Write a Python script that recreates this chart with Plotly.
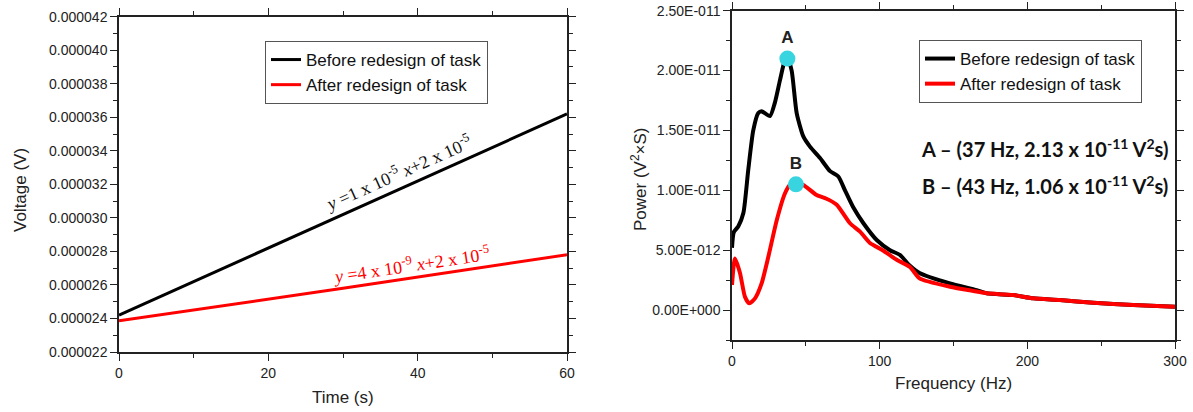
import plotly.graph_objects as go

# ---------------- Left panel data ----------------
time_s = [0, 30, 60]
volt_before = [2.42e-5, 3.02e-5, 3.62e-5]
volt_after = [2.386e-5, 2.58e-5, 2.78e-5]

# ---------------- Right panel data ----------------
freq_before = [0, 1.2, 4.3, 7.7, 11, 14.4, 17.8, 20, 25.7, 29, 32.5, 35.9, 37.5, 40.4, 43.8,
               48.3, 52.8, 59.6, 66.4, 72, 76.5, 82, 89, 98, 107, 113.7, 120.5, 127, 147.6,
               165.7, 172.4, 190.5, 204, 222, 244.6, 271.7, 300]
power_before = [0.52, 0.65, 0.70, 0.81, 1.17, 1.50, 1.645, 1.66, 1.62, 1.73, 1.92, 2.09, 2.11,
                2.00, 1.645, 1.45, 1.365, 1.27, 1.16, 1.115, 1.00, 0.86, 0.725, 0.585, 0.50,
                0.46, 0.37, 0.31, 0.223, 0.167, 0.14, 0.125, 0.098, 0.084, 0.061, 0.042, 0.028]
freq_after = [0, 2, 5.4, 8.8, 11.7, 15.6, 20, 24.6, 30.3, 35.9, 39.3, 43.3, 48.3, 57.3, 64,
              70.9, 79.9, 86.7, 93.4, 102, 111.5, 120.5, 127, 147.6, 165.7, 172.4, 190.5,
              204, 222, 244.6, 271.7, 300]
power_after = [0.21, 0.43, 0.31, 0.11, 0.056, 0.098, 0.22, 0.445, 0.75, 0.975, 1.045, 1.06,
               1.045, 0.96, 0.93, 0.88, 0.725, 0.655, 0.56, 0.50, 0.42, 0.36, 0.265, 0.195,
               0.155, 0.14, 0.125, 0.098, 0.084, 0.061, 0.042, 0.028]
scale = 1e-11
power_before = [v * scale for v in power_before]
power_after = [v * scale for v in power_after]

peak_labels = ["A", "B"]
peak_freq = [37.5, 43.3]
peak_power = [2.10e-11, 1.05e-11]

y2_tickvals = [0, 5e-12, 1e-11, 1.5e-11, 2e-11, 2.5e-11]
y2_ticktext = ["0.00E+000", "5.00E-012", "1.00E-011", "1.50E-011", "2.00E-011", "2.50E-011"]

W, H = 1193, 412
def px(x): return x / W
def py(y): return 1 - y / H

AX_FONT = dict(family="Liberation Sans, Arial", size=14, color="#222")
TITLE_FONT = dict(family="Liberation Sans, Arial", size=17, color="#222")

fig = go.Figure()

fig.add_trace(go.Scatter(x=time_s, y=volt_before, mode="lines", name="Before redesign of task",
                         line=dict(color="black", width=3), xaxis="x", yaxis="y", legend="legend"))
fig.add_trace(go.Scatter(x=time_s, y=volt_after, mode="lines", name="After redesign of task",
                         line=dict(color="#ff0000", width=3), xaxis="x", yaxis="y", legend="legend"))

fig.add_trace(go.Scatter(x=freq_before, y=power_before, mode="lines", name="Before redesign of task",
                         line=dict(color="black", width=4, shape="spline", smoothing=0.6),
                         xaxis="x2", yaxis="y2", legend="legend2"))
fig.add_trace(go.Scatter(x=freq_after, y=power_after, mode="lines", name="After redesign of task",
                         line=dict(color="#ff0000", width=4, shape="spline", smoothing=0.6),
                         xaxis="x2", yaxis="y2", legend="legend2"))
fig.add_trace(go.Scatter(x=peak_freq, y=peak_power, mode="markers+text", text=peak_labels,
                         textposition="top center",
                         textfont=dict(family="Liberation Sans, Arial", size=17, color="#222",
                                       weight="bold"),
                         marker=dict(color="#38d5e0", size=16), showlegend=False,
                         xaxis="x2", yaxis="y2"))

axis_common = dict(showline=True, linecolor="#222", linewidth=1.5, mirror="ticks",
                   ticks="outside", ticklen=7, tickwidth=1.2, tickcolor="#222",
                   showgrid=False, zeroline=False, tickfont=AX_FONT, automargin=False)

legend_common = dict(xanchor="left", yanchor="top", bordercolor="#555", borderwidth=1,
                     bgcolor="white", tracegroupgap=0,
                     font=dict(family="Liberation Sans, Arial", size=17, color="#111"))

fig.update_layout(
    template="none",
    width=W, height=H, margin=dict(l=0, r=0, t=0, b=0, pad=0),
    paper_bgcolor="white", plot_bgcolor="white",
    xaxis=dict(domain=[px(119), px(567)], range=[0, 60], dtick=20, tick0=0,
               minor=dict(dtick=10, ticks="outside", ticklen=4, tickcolor="#222"),
               anchor="y", **axis_common),
    yaxis=dict(domain=[py(352), py(16.7)], range=[22e-6, 42e-6], dtick=2e-6, tick0=0,
               tickformat=".6f",
               minor=dict(dtick=1e-6, ticks="outside", ticklen=4, tickcolor="#222"),
               anchor="x", **axis_common),
    xaxis2=dict(domain=[px(732), px(1175)], range=[0, 300], dtick=100, tick0=0,
                minor=dict(dtick=50, ticks="outside", ticklen=4, tickcolor="#222"),
                anchor="y2", **axis_common),
    yaxis2=dict(domain=[py(340), py(10.7)], range=[-2.5e-12, 2.5e-11], tickmode="array",
                tickvals=y2_tickvals, ticktext=y2_ticktext,
                minor=dict(tickmode="linear", tick0=-2.5e-12, dtick=2.5e-12, ticks="outside",
                           ticklen=4, tickcolor="#222"),
                anchor="x2", **axis_common),
    legend=dict(x=px(265), y=py(41), **legend_common),
    legend2=dict(x=px(919), y=py(40), **legend_common),
    showlegend=True,
)

# axis titles
def title_ann(x, y, text, angle=0):
    fig.add_annotation(x=px(x), y=py(y), xref="paper", yref="paper", showarrow=False,
                       xanchor="center", yanchor="middle", textangle=angle, text=text,
                       font=TITLE_FONT)

title_ann(20, 190, "Voltage (V)", -90)
title_ann(343, 397, "Time (s)")
title_ann(639, 180, "Power (V<sup>2</sup>×S)", -90)
title_ann(953, 383, "Frequency (Hz)")

eq_font = dict(family="Liberation Serif, Times New Roman", size=18)
fig.add_annotation(x=37.4, y=32.7e-6, xref="x", yref="y", showarrow=False, textangle=-24,
                   xanchor="center", yanchor="middle",
                   text="<i>y</i> =1 x 10<sup>-5</sup> <i>x</i>+2 x 10<sup>-5</sup>",
                   font=dict(color="#111", **eq_font))
fig.add_annotation(x=39.1, y=27.24e-6, xref="x", yref="y", showarrow=False, textangle=-8.5,
                   xanchor="center", yanchor="middle",
                   text="<i>y</i> =4 x 10<sup>-9</sup> <i>x</i>+2 x 10<sup>-5</sup>",
                   font=dict(color="#ff0000", **eq_font))

ann_font = dict(family="Lato, Open Sans", size=20, color="#111", weight="bold")
fig.add_annotation(x=px(1170), y=py(148), xref="paper", yref="paper", xanchor="right",
                   yanchor="middle", showarrow=False,
                   text="A – (37 Hz, 2.13 x 10<sup>-11</sup> V<sup>2</sup>s)", font=ann_font)
fig.add_annotation(x=px(1170), y=py(185), xref="paper", yref="paper", xanchor="right",
                   yanchor="middle", showarrow=False,
                   text="B – (43 Hz, 1.06 x 10<sup>-11</sup> V<sup>2</sup>s)", font=ann_font)

fig.write_html("out.html", config={"displayModeBar": False},
               post_script="document.body.style.margin='0px';")
